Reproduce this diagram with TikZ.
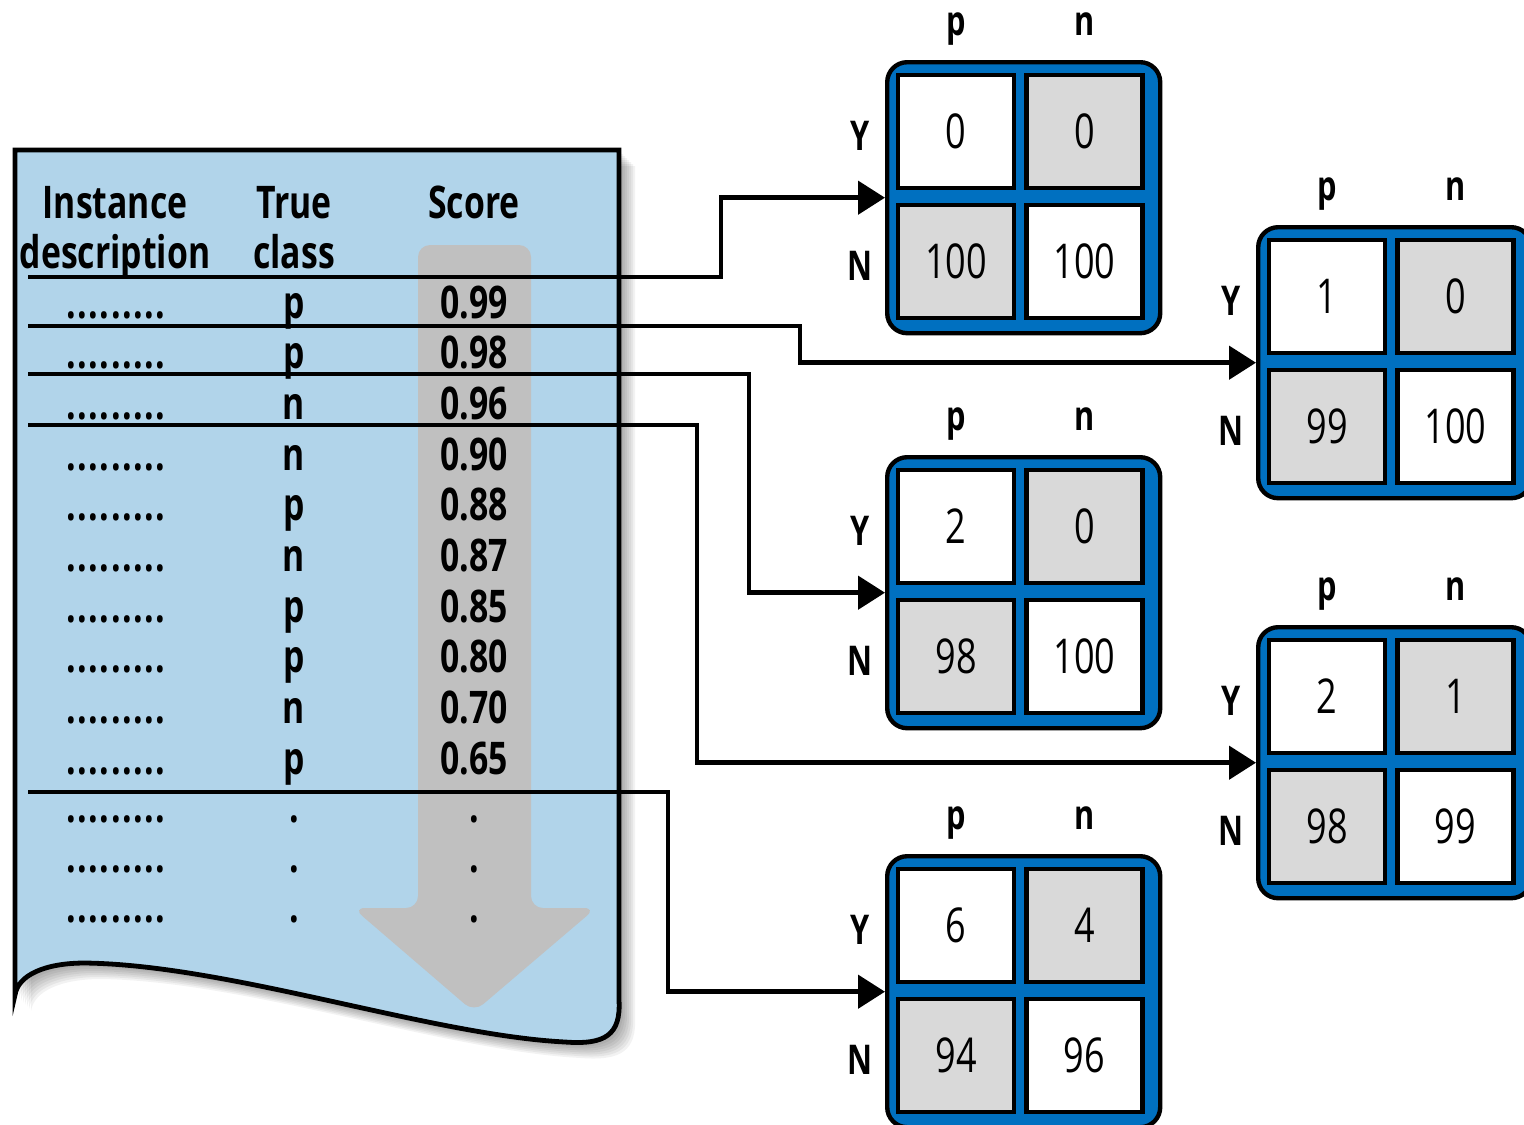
\documentclass[tikz,border=0pt]{standalone}
\usepackage{fontspec}
\setmainfont{Open Sans}[FakeStretch=0.75]
\usetikzlibrary{arrows.meta}
\definecolor{docblue}{RGB}{177,212,234}
\definecolor{boxblue}{RGB}{0,112,192}
\definecolor{cellgray}{RGB}{217,217,217}
\definecolor{arrowgray}{RGB}{192,192,192}
\newcommand\cmbox[7]{%
  \node[mbox] (#1) at (#2,#3) {};
  \begin{scope}[shift={(#2,#3)}]
    \node[cellw] (#1a) at (71,71.5) {#4};
    \node[cellg] (#1b) at (199.5,71.5) {#5};
    \node[cellg] (#1c) at (71,201.5) {#6};
    \node[cellw] (#1d) at (199.5,201.5) {#7};
    \node[hlab] (#1p) at (71,-25) {p};
    \node[hlab] (#1n) at (199.5,-25) {n};
    \node[hlab] (#1y) at (-25,90) {Y};
    \node[hlab] (#1N) at (-25,220) {N};
  \end{scope}}
\begin{document}
\begin{tikzpicture}[x=0.5pt,y=-0.5pt,
  hdr/.style={font=\bfseries\fontsize{22.5pt}{25pt}\selectfont, anchor=base, inner sep=0},
  dotrow/.style={hdr, font=\bfseries\fontsize{22.5pt}{25pt}\selectfont\addfontfeature{LetterSpace=3.5}},
  cellw/.style={draw=black, line width=2.2pt, fill=white, minimum width=58pt, minimum height=56.5pt, inner sep=0, font=\fontsize{24pt}{26pt}\selectfont},
  cellg/.style={cellw, fill=cellgray},
  mbox/.style={draw=black, fill=boxblue, line width=2.2pt, rounded corners=10pt, minimum width=136.5pt, minimum height=135.5pt, inner sep=0, anchor=north west},
  hlab/.style={font=\bfseries\fontsize{20.5pt}{22pt}\selectfont, anchor=base, inner sep=0},
  conn/.style={line width=2.4pt, -{Triangle[length=13.5pt,width=16.5pt]}},
  docshadow/.style={fill=black, opacity=0.05},
  docbody/.style={fill=docblue, draw=black, line width=2.4pt},
  bigarrow/.style={fill=arrowgray, rounded corners=6pt}
]
\clip (0,0) rectangle (1524,1124);
\fill[white] (0,0) rectangle (1524,1124);
% shadow of the document
\foreach \k in {2,4,...,16} {
  \fill[docshadow, shift={(\k,\k)}] (15,150) -- (619,150) -- (619,1000)
    .. controls (621,1035) and (605,1045) .. (565,1042)
    .. controls (430,1035) and (230,965) .. (85,963)
    .. controls (45,963) and (18,975) .. (15,995) -- cycle;
}
% document
\filldraw[docbody] (15,150) -- (619,150) -- (619,1000)
    .. controls (621,1035) and (605,1045) .. (565,1042)
    .. controls (430,1035) and (230,965) .. (85,963)
    .. controls (45,963) and (18,975) .. (15,995) -- cycle;
% gray arrow
\fill[bigarrow] (474,245) -- (531,245) -- (531,908) -- (596,908) -- (474,1012)
   -- (353,908) -- (418,908) -- (418,245) -- cycle;
% headers
\node[hdr] (h1) at (115,218) {Instance};
\node[hdr] (h2) at (115,268) {description};
\node[hdr] (h3) at (294,218) {True};
\node[hdr] (h4) at (294,268) {class};
\node[hdr] (h5) at (474,218) {Score};
% rows
\foreach \c/\s [count=\i from 0] in {p/0.99,p/0.98,n/0.96,n/0.90,p/0.88,n/0.87,p/0.85,p/0.80,n/0.70,p/0.65} {
  \node[dotrow] (ri\i) at (116,{318+50.7*\i}) {.........};
  \node[hdr] (rc\i) at (294,{318+50.7*\i}) {\c};
  \node[hdr] (rs\i) at (474,{318+50.7*\i}) {\s};
}
\foreach \y [count=\j] in {822,872,922} {
  \node[dotrow] (ei\j) at (116,\y) {.........};
  \node[hdr] (ec\j) at (294,\y) {.};
  \node[hdr] (es\j) at (474,\y) {.};
}
% confusion matrices
\cmbox{m1}{885}{60}{0}{0}{100}{100}
\cmbox{m2}{1256}{225}{1}{0}{99}{100}
\cmbox{m3}{885}{455}{2}{0}{98}{100}
\cmbox{m4}{1256}{625}{2}{1}{98}{99}
\cmbox{m5}{885}{854}{6}{4}{94}{96}
% connectors
\coordinate (s1) at (28,277); \coordinate (k1) at (721,277);
\coordinate (s2) at (28,326); \coordinate (k2) at (800,326);
\coordinate (s3) at (28,374); \coordinate (k3) at (749,374);
\coordinate (s4) at (28,425); \coordinate (k4) at (697,425);
\coordinate (s5) at (28,792); \coordinate (k5) at (668,792);
\draw[conn] (s1) -- (k1) |- (m1.west);
\draw[conn] (s2) -- (k2) |- (m2.west);
\draw[conn] (s3) -- (k3) |- (m3.west);
\draw[conn] (s4) -- (k4) |- (m4.west);
\draw[conn] (s5) -- (k5) |- (m5.west);
\end{tikzpicture}
\end{document}
